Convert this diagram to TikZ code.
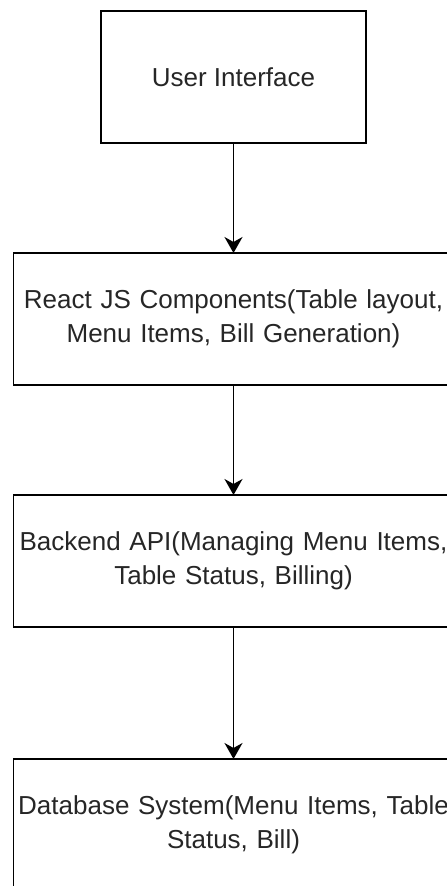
\documentclass[tikz,border=0pt]{standalone}
\usepackage{fontspec}
\setmainfont{Liberation Sans}
\usetikzlibrary{positioning,arrows.meta}

\tikzset{
    layer/.style={draw, line width=1.6pt, inner sep=0pt, outer sep=0pt,
        minimum height=132pt, align=center, text=black!85,
        font=\fontsize{26}{34}\selectfont},
    wide/.style={layer, minimum width=440pt, text width=440pt},
    flow/.style={-{Stealth[length=16pt,width=18pt,inset=5pt]}, line width=1.6pt}
}

\begin{document}
\begin{tikzpicture}[x=1pt,y=-1pt]
    \useasboundingbox (0,0) rectangle (447,886);
    \clip (0,0) rectangle (447,886);
    % Define layers
        \node[layer, minimum width=265pt] (ui) at (233.5,77) {User Interface};
        \node[wide, below=110pt of ui] (react) {React JS Components(Table layout,\\Menu Items, Bill Generation)};
        \node[wide, below=110pt of react] (api) {Backend API(Managing Menu Items,\\Table Status, Billing)};
        \node[wide, below=132pt of api] (db) {Database System(Menu Items, Table\\Status, Bill)};
        % Draw arrows
        \draw[flow] (ui) -- (react);
        \draw[flow] (react) -- (api);
        \draw[flow] (api) -- (db);
    \end{tikzpicture}
\end{document}
